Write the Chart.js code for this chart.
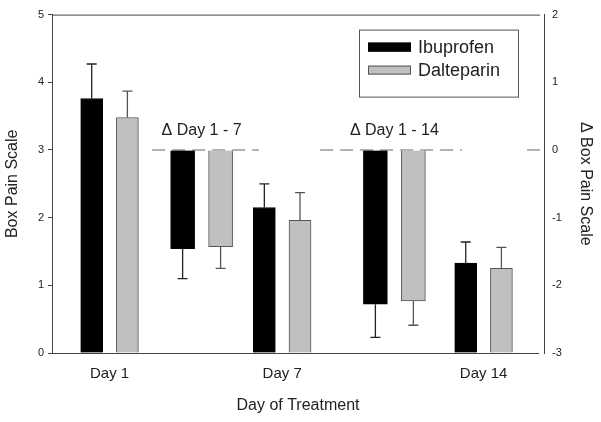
<!DOCTYPE html>
<html lang="en">
<head>
  <meta charset="UTF-8" />
  <title>Box Pain Scale</title>
  <script src="https://cdn.jsdelivr.net/npm/chart.js"></script>
  <style>
    body {
      margin: 0;
      background: #fff;
    }
    canvas {
      display: block;
    }
  </style>
</head>
<body>
  <canvas id="painChart" width="601" height="422"></canvas>

  <script>
    // days on the x axis (linear, in days)
    const days = [1, 7, 14];
    const dayLabels = ['Day 1', 'Day 7', 'Day 14'];
    const deltaPos = [4.2, 10.9];
    const deltaLabels = ['\u0394 Day 1 - 7', '\u0394 Day 1 - 14'];

    // left axis: box pain scale
    const ibuprofenScore = [3.76, 2.15, 1.33];
    const ibuprofenErr = [0.51, 0.35, 0.31];
    const dalteparinScore = [3.48, 1.96, 1.25];
    const dalteparinErr = [0.39, 0.41, 0.31];

    // right axis: change in box pain scale
    const ibuprofenDelta = [-1.46, -2.28];
    const ibuprofenDeltaErr = [0.44, 0.49];
    const dalteparinDelta = [-1.43, -2.23];
    const dalteparinDeltaErr = [0.32, 0.36];

    const barOffset = 0.62;
    const font = 'Arial, "Liberation Sans", sans-serif';
    const textColor = '#222';
    const axisColor = '#444';

    const pts = (xs, ys, shift) => ys.map((y, i) => ({ x: xs[i] + shift, y }));

    const refLine = {
      id: 'refLine',
      beforeDatasetsDraw(chart) {
        const { ctx, scales } = chart;
        const y0 = scales.y2.getPixelForValue(0);
        const segs = [[2.48, 6.19], [8.32, 13.25], [15.51, 16.1]];
        ctx.save();
        ctx.strokeStyle = '#999';
        ctx.lineWidth = 1.5;
        ctx.setLineDash([13, 7]);
        segs.forEach(s => {
          ctx.beginPath();
          ctx.moveTo(scales.x.getPixelForValue(s[0]), y0);
          ctx.lineTo(scales.x.getPixelForValue(s[1]), y0);
          ctx.stroke();
        });
        ctx.setLineDash([]);
        ctx.fillStyle = textColor;
        ctx.font = '16px ' + font;
        ctx.textAlign = 'center';
        ctx.textBaseline = 'middle';
        deltaPos.forEach((p, i) => {
          ctx.fillText(deltaLabels[i], scales.x.getPixelForValue(p), y0 - 19);
        });
        // frame: top and bottom lines
        const a = chart.chartArea;
        ctx.strokeStyle = axisColor;
        ctx.lineWidth = 1;
        ctx.beginPath();
        ctx.moveTo(a.left, a.top + 0.5);
        ctx.lineTo(a.right - 4, a.top + 0.5);
        ctx.moveTo(a.left - 4, a.bottom + 0.5);
        ctx.lineTo(a.right - 5, a.bottom + 0.5);
        ctx.stroke();
        ctx.restore();
      }
    };

    const errorBars = {
      id: 'errorBars',
      afterDatasetsDraw(chart) {
        const ctx = chart.ctx;
        chart.data.datasets.forEach((ds, di) => {
          const meta = chart.getDatasetMeta(di);
          const scale = chart.scales[ds.yAxisID];
          meta.data.forEach((bar, i) => {
            const v = ds.data[i].y;
            const yEnd = scale.getPixelForValue(v + Math.sign(v) * ds.errors[i]);
            ctx.save();
            ctx.strokeStyle = ds.errColor;
            ctx.lineWidth = 1.3;
            ctx.beginPath();
            ctx.moveTo(bar.x, bar.y);
            ctx.lineTo(bar.x, yEnd);
            ctx.moveTo(bar.x - 5, yEnd);
            ctx.lineTo(bar.x + 5, yEnd);
            ctx.stroke();
            ctx.restore();
          });
        });
      }
    };

    const boxLegend = {
      id: 'boxLegend',
      afterDraw(chart) {
        const ctx = chart.ctx;
        const a = chart.chartArea;
        const x = a.right - 185, y = a.top + 15;
        ctx.save();
        ctx.strokeStyle = '#555';
        ctx.lineWidth = 1;
        ctx.strokeRect(x + 0.5, y + 0.5, 159, 67);
        ctx.font = '18px ' + font;
        ctx.textBaseline = 'middle';
        chart.data.datasets.slice(0, 2).forEach((ds, i) => {
          const ry = y + 17 + i * 23;
          ctx.fillStyle = ds.backgroundColor;
          ctx.fillRect(x + 9, ry - 4, 43, 9);
          ctx.strokeStyle = ds.borderColor;
          ctx.strokeRect(x + 9.5, ry - 3.5, 42, 8);
          ctx.fillStyle = textColor;
          ctx.fillText(ds.label, x + 59, ry + 1);
        });
        ctx.restore();
      }
    };

    new Chart(document.getElementById('painChart'), {
      type: 'bar',
      data: {
        datasets: [
          {
            label: 'Ibuprofen',
            data: pts(days, ibuprofenScore, -barOffset),
            errors: ibuprofenErr,
            errColor: '#222',
            yAxisID: 'y',
            backgroundColor: '#000',
            borderColor: '#000',
            borderWidth: 1,
            barThickness: 22
          },
          {
            label: 'Dalteparin',
            data: pts(days, dalteparinScore, barOffset),
            errors: dalteparinErr,
            errColor: '#555',
            yAxisID: 'y',
            backgroundColor: '#c0c0c0',
            borderColor: '#555',
            borderWidth: 1,
            barThickness: 22
          },
          {
            label: 'Ibuprofen change',
            data: pts(deltaPos, ibuprofenDelta, -0.66),
            errors: ibuprofenDeltaErr,
            errColor: '#222',
            yAxisID: 'y2',
            backgroundColor: '#000',
            borderColor: '#000',
            borderWidth: 1,
            barThickness: 24
          },
          {
            label: 'Dalteparin change',
            data: pts(deltaPos, dalteparinDelta, 0.66),
            errors: dalteparinDeltaErr,
            errColor: '#555',
            yAxisID: 'y2',
            backgroundColor: '#c0c0c0',
            borderColor: '#555',
            borderWidth: 1,
            barThickness: 24
          }
        ]
      },
      options: {
        responsive: false,
        animation: false,
        grouped: false,
        layout: { padding: { top: 14 } },
        plugins: {
          legend: { display: false },
          tooltip: { enabled: false }
        },
        scales: {
          x: {
            type: 'linear',
            offset: false,
            min: -1,
            max: 16.1,
            afterBuildTicks: s => { s.ticks = days.map(v => ({ value: v })); },
            afterFit: s => { s.height = 69; },
            grid: { display: false, drawTicks: false, offset: false },
            border: { display: false },
            ticks: {
              autoSkip: false,
              maxRotation: 0,
              padding: 12,
              color: textColor,
              font: { family: font, size: 15 },
              callback: v => dayLabels[days.indexOf(v)] || ''
            },
            title: {
              display: true,
              text: 'Day of Treatment',
              color: textColor,
              font: { family: font, size: 16 },
              padding: { top: 0, bottom: 7 }
            }
          },
          y: {
            position: 'left',
            min: 0,
            max: 5,
            afterFit: s => { s.width = 52; },
            grid: { drawOnChartArea: false, tickLength: 4, color: axisColor },
            border: { color: axisColor },
            ticks: {
              stepSize: 1,
              padding: 4,
              color: textColor,
              font: { family: font, size: 11 }
            },
            title: {
              display: true,
              text: 'Box Pain Scale',
              color: textColor,
              font: { family: font, size: 16 },
              padding: { top: 3, bottom: 0 }
            }
          },
          y2: {
            position: 'right',
            min: -3,
            max: 2,
            afterFit: s => { s.width = 57; },
            grid: { drawOnChartArea: false, drawTicks: false, color: axisColor },
            border: { color: axisColor },
            ticks: {
              stepSize: 1,
              padding: 8,
              color: textColor,
              font: { family: font, size: 11 }
            },
            title: {
              display: true,
              text: '\u0394 Box Pain Scale',
              color: textColor,
              font: { family: font, size: 16 },
              padding: { top: 6, bottom: 0 }
            }
          }
        }
      },
      plugins: [refLine, errorBars, boxLegend]
    });
  </script>
</body>
</html>
